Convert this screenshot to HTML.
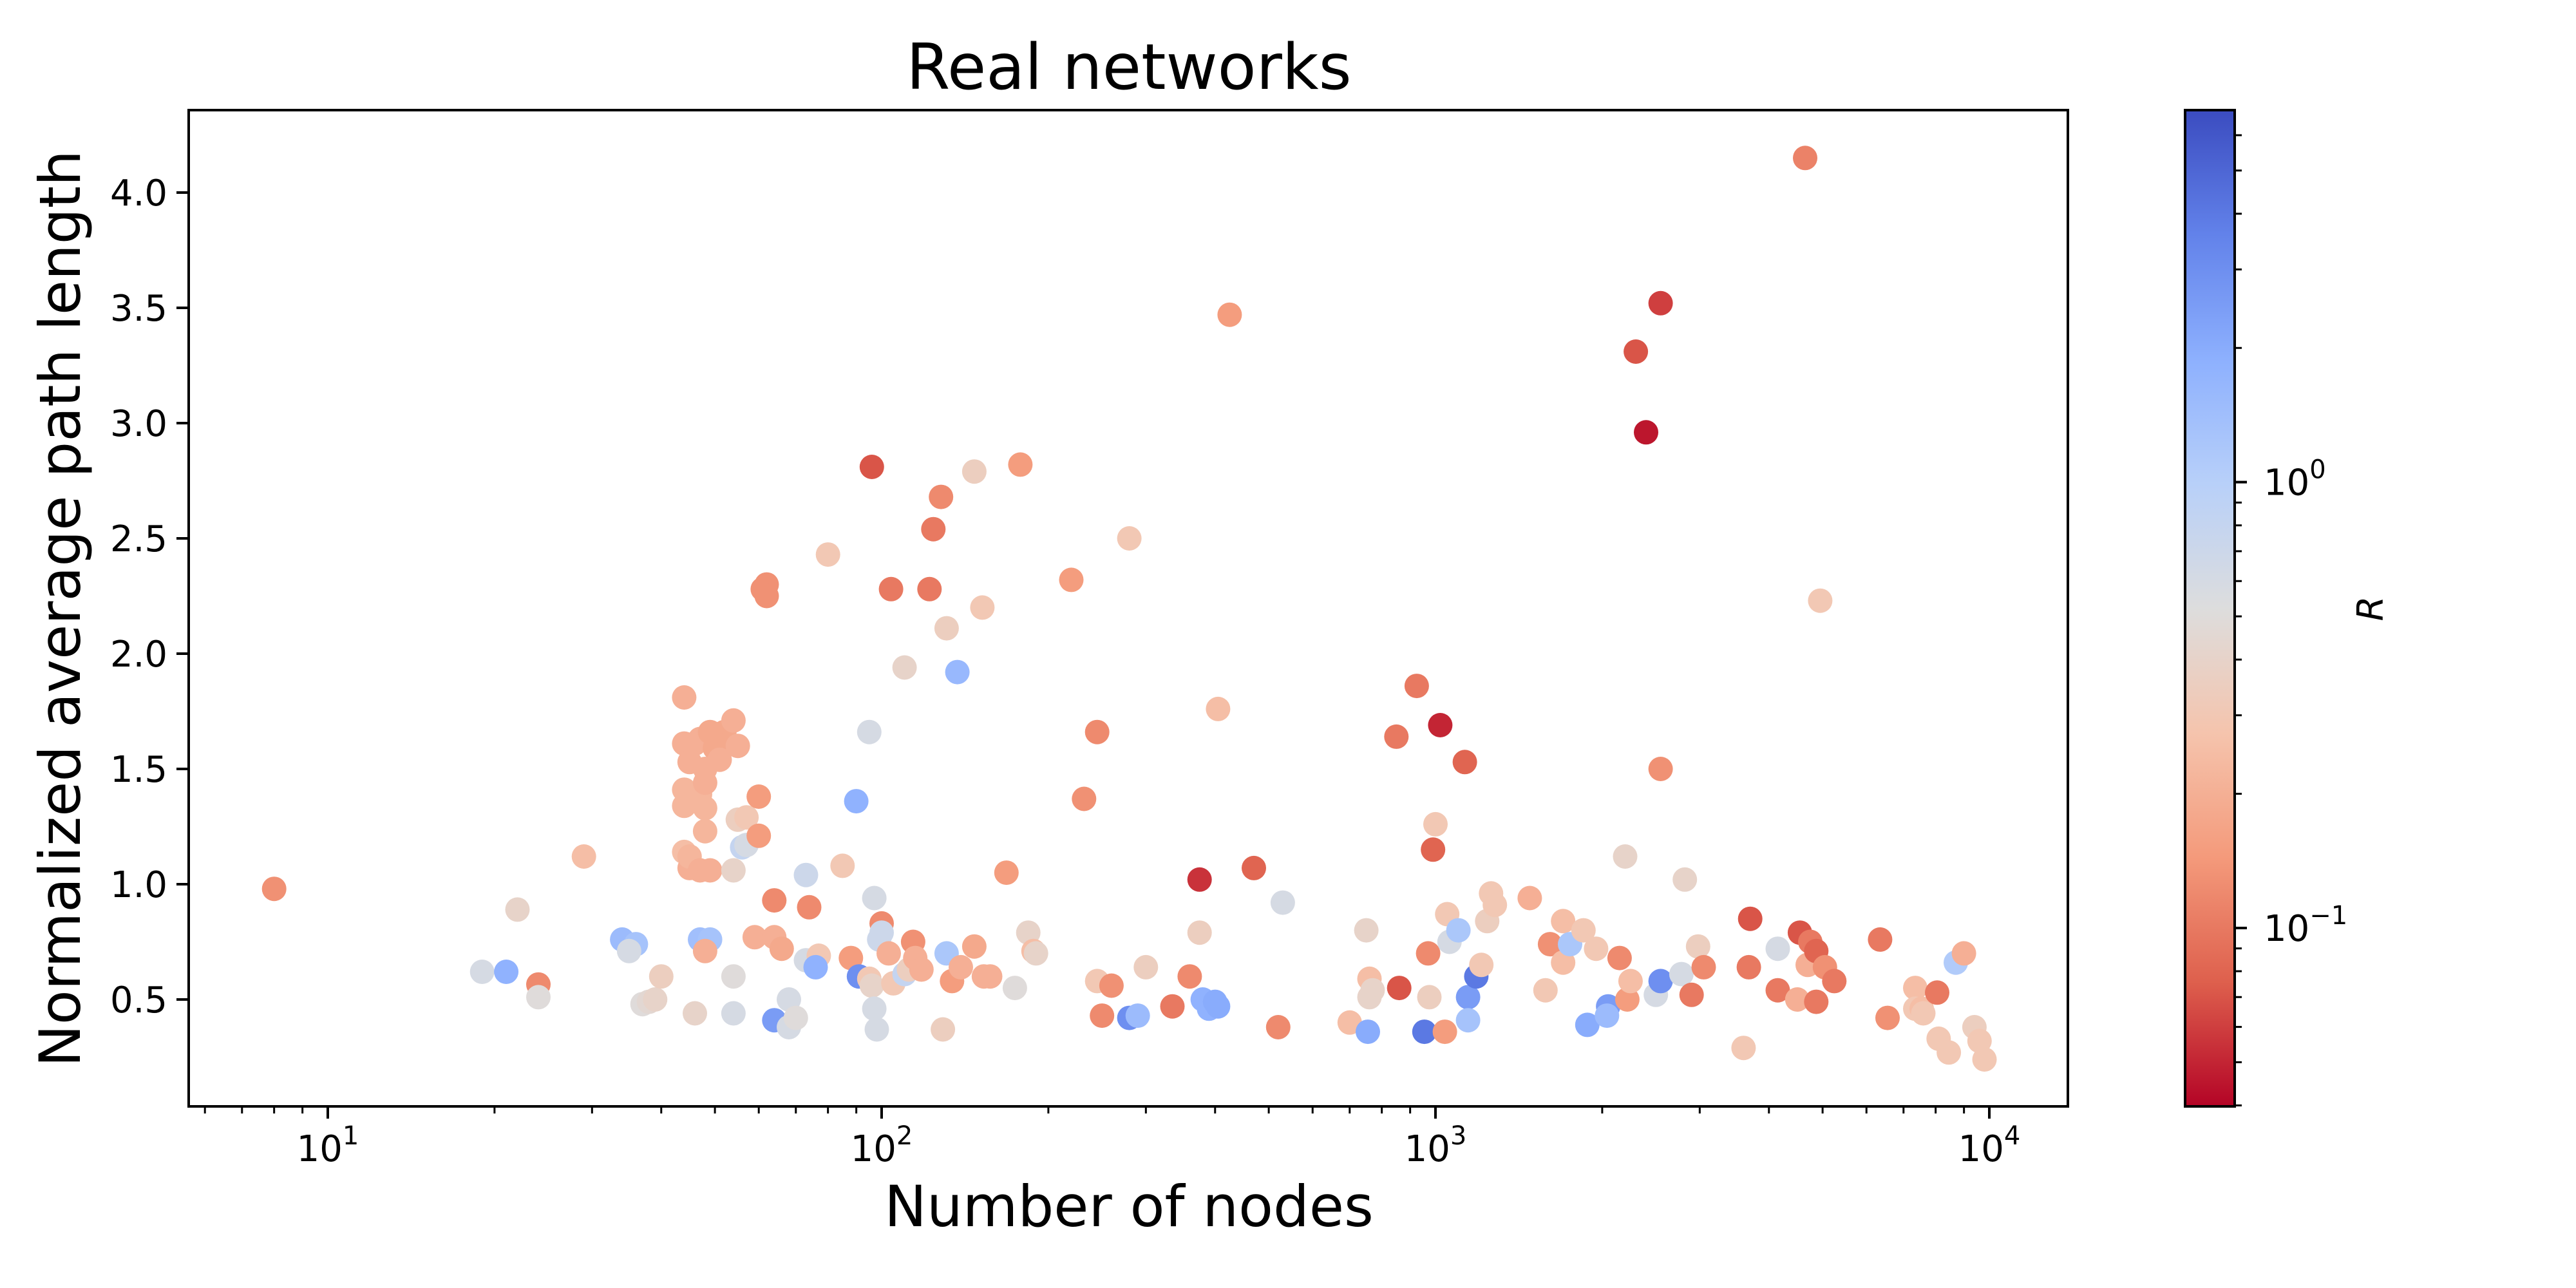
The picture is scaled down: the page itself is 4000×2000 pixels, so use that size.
<!DOCTYPE html>
<html><head><meta charset="utf-8"><style>
html,body{margin:0;padding:0;background:#fff;}
svg{display:block;font-family:"DejaVu Sans","Liberation Sans",sans-serif;}
</style></head><body>
<svg id="chart" width="4000" height="2000" viewBox="0 0 4000 2000" xmlns="http://www.w3.org/2000/svg">
<rect width="4000" height="2000" fill="#fff"/>
<text x="1753" y="138" font-size="98" text-anchor="middle">Real networks</text>
<text x="1753" y="1904" font-size="88" text-anchor="middle">Number of nodes</text>
<text transform="translate(124,945) rotate(-90)" font-size="88" text-anchor="middle">Normalized average path length</text>
<g id="points"></g>
<g id="axes"></g>
<defs><linearGradient id="cbgrad" x1="0" y1="1" x2="0" y2="0">
<stop offset="0" stop-color="#b40426"/><stop offset="0.125" stop-color="#de604d"/><stop offset="0.25" stop-color="#f49a7b"/><stop offset="0.375" stop-color="#f5c4ad"/><stop offset="0.5" stop-color="#dddddd"/><stop offset="0.625" stop-color="#b8d0f9"/><stop offset="0.75" stop-color="#8db0fe"/><stop offset="0.875" stop-color="#6282ea"/><stop offset="1" stop-color="#3b4cc0"/>
</linearGradient></defs>
<g id="colorbar"></g>
<text transform="translate(3700,945) rotate(-90)" font-size="56" font-style="italic" text-anchor="middle">R</text>
</svg>
<script>
const nodes=[8,19,21,22,24,24,29,34,36,35,37,38,39,40,46,44,44,45,46,47,44,44,47,48,48,44,45,45,47,49,50,52,49,54,55,51,48,48,54,55,56,57,57,60,60,61,62,62,47,49,48,54,54,59,64,64,66,64,68,68,70,73,74,73,77,76,80,85,88,90,91,95,96,95,97,96,97,98,99,100,100,103,104,110,105,110,112,114,115,118,122,124,128,131,129,131,134,137,139,147,147,152,153,157,168,174,178,184,188,190,220,232,245,245,250,260,280,280,290,300,335,360,375,375,380,390,400,405,405,425,470,520,530,700,750,760,760,755,770,850,860,925,955,970,990,1000,1020,975,1040,1050,1060,1100,1130,1145,1145,1185,1210,1240,1260,1280,1480,1580,1610,1700,1700,1750,1850,1880,1950,2050,2040,2150,2200,2220,2250,2300,2400,2500,2550,2550,2550,2780,2820,2900,2980,3050,3600,3700,3680,4150,4150,4500,4550,4650,4750,4700,4870,4870,4950,5050,5250,6350,6550,7350,7350,7550,7600,8050,8100,8450,8700,9000,9400,9600,9800];
const pathLen=[0.98,0.62,0.62,0.89,0.565,0.51,1.12,0.76,0.74,0.71,0.48,0.49,0.5,0.6,0.44,1.81,1.61,1.53,1.61,1.63,1.41,1.34,1.39,1.33,1.23,1.14,1.07,1.12,1.06,1.06,1.59,1.66,1.66,1.71,1.6,1.54,1.44,1.5,1.06,1.28,1.16,1.17,1.29,1.21,1.38,2.28,2.3,2.25,0.76,0.76,0.71,0.6,0.44,0.77,0.93,0.77,0.72,0.41,0.5,0.38,0.42,1.04,0.9,0.67,0.69,0.64,2.43,1.08,0.68,1.36,0.6,0.59,2.81,1.66,0.94,0.56,0.46,0.37,0.76,0.83,0.79,0.7,2.28,1.94,0.57,0.61,0.63,0.75,0.68,0.63,2.28,2.54,2.68,2.11,0.37,0.7,0.58,1.92,0.64,2.79,0.73,2.2,0.6,0.6,1.05,0.55,2.82,0.79,0.71,0.7,2.32,1.37,1.66,0.58,0.43,0.56,2.5,0.42,0.43,0.64,0.47,0.6,0.79,1.02,0.5,0.46,0.49,0.47,1.76,3.47,1.07,0.38,0.92,0.4,0.8,0.59,0.51,0.36,0.54,1.64,0.55,1.86,0.36,0.7,1.15,1.26,1.69,0.51,0.36,0.87,0.75,0.8,1.53,0.51,0.41,0.6,0.65,0.84,0.96,0.91,0.94,0.54,0.74,0.84,0.66,0.74,0.8,0.39,0.72,0.47,0.43,0.68,1.12,0.5,0.58,3.31,2.96,0.52,1.5,3.52,0.58,0.61,1.02,0.52,0.73,0.64,0.29,0.85,0.64,0.72,0.54,0.5,0.79,4.15,0.75,0.65,0.71,0.49,2.23,0.64,0.58,0.76,0.42,0.55,0.46,0.46,0.44,0.53,0.33,0.27,0.66,0.7,0.38,0.32,0.24];
const rValues=[0.13,0.6,1.8,0.4,0.12,0.5,0.25,1.5,1.3,0.6,0.5,0.45,0.4,0.35,0.4,0.2,0.2,0.2,0.2,0.2,0.22,0.22,0.22,0.22,0.22,0.25,0.2,0.22,0.2,0.2,0.18,0.18,0.18,0.2,0.2,0.2,0.2,0.2,0.4,0.35,0.8,0.6,0.3,0.15,0.15,0.13,0.13,0.13,1.4,1.3,0.2,0.5,0.6,0.2,0.12,0.2,0.18,2.5,0.6,0.6,0.5,0.7,0.12,0.6,0.3,1.8,0.3,0.3,0.15,1.8,3,0.3,0.07,0.6,0.6,0.4,0.6,0.6,0.7,0.12,0.7,0.2,0.1,0.4,0.3,0.8,0.35,0.13,0.2,0.2,0.1,0.1,0.12,0.35,0.35,1.2,0.15,1.6,0.2,0.35,0.18,0.3,0.2,0.2,0.15,0.5,0.15,0.4,0.25,0.4,0.15,0.13,0.12,0.3,0.12,0.13,0.3,3,1.5,0.35,0.1,0.12,0.35,0.055,1.8,1.8,2,2,0.25,0.15,0.08,0.12,0.6,0.25,0.4,0.25,0.4,2,0.4,0.1,0.07,0.1,4,0.12,0.08,0.3,0.05,0.35,0.15,0.3,0.6,1.2,0.08,2.5,1.3,4,0.3,0.35,0.3,0.3,0.2,0.3,0.13,0.25,0.25,1.2,0.3,2,0.3,2.5,1.5,0.12,0.4,0.15,0.25,0.07,0.045,0.6,0.13,0.06,3,0.6,0.4,0.1,0.35,0.12,0.3,0.07,0.1,0.6,0.1,0.2,0.07,0.11,0.1,0.2,0.08,0.1,0.3,0.13,0.1,0.1,0.13,0.25,0.3,0.25,0.3,0.1,0.3,0.3,1.1,0.2,0.35,0.3,0.3];
const yTicks=[0.5,1.0,1.5,2.0,2.5,3.0,3.5,4.0];
const xMajorExp=[1,2,3,4];
const cbMajorExp=[-1,0];

const NS="http://www.w3.org/2000/svg";
const PL=293,PR=3211,PT=171,PB=1718;
const X0=509,DEC=860;
function xs(v){return X0+(Math.log10(v)-1)*DEC;}
function ys(v){return 299+(4.0-v)*358;}
const CBL=3393,CBR=3470,CBT=171,CBB=1718;
const RMIN=0.0398,RMAX=6.83;
function cbs(v){return CBB-(Math.log10(v)-Math.log10(RMIN))/(Math.log10(RMAX)-Math.log10(RMIN))*(CBB-CBT);}
const stops=[[59,76,192],[98,130,234],[141,176,254],[184,208,249],[221,221,221],[245,196,173],[244,154,123],[222,96,77],[180,4,38]];
function cmap(r){let t=(Math.log10(r)-Math.log10(RMIN))/(Math.log10(RMAX)-Math.log10(RMIN));t=Math.max(0,Math.min(1,1-t));
 const p=t*8,i=Math.min(7,Math.floor(p)),f=p-i,a=stops[i],b=stops[i+1];
 return 'rgb('+a.map((c,k)=>Math.round(c+(b[k]-c)*f)).join(',')+')';}
function mk(tag,attrs,parent){const e=document.createElementNS(NS,tag);for(const k in attrs)e.setAttribute(k,attrs[k]);parent.appendChild(e);return e;}

const pts=document.getElementById('points');
for(let i=0;i<nodes.length;i++){
 const c=mk('circle',{cx:xs(nodes[i]).toFixed(1),cy:ys(pathLen[i]).toFixed(1),r:19,fill:cmap(rValues[i])},pts);
 
 
}
const ax=document.getElementById('axes');
const frame=mk('rect',{x:PL,y:PT,width:PR-PL,height:PB-PT,fill:'none',stroke:'#000','stroke-width':4},ax);


for(const v of yTicks){
 const y=ys(v);
 mk('line',{x1:PL-19,x2:PL,y1:y,y2:y,stroke:'#000','stroke-width':4},ax);
 const t=mk('text',{x:PL-33,y:y+20,'font-size':56,'text-anchor':'end'},ax);
 t.textContent=v.toFixed(1);
 
 
}
for(let e=0;e<=4;e++){for(let m=1;m<=9;m++){
 const v=m*Math.pow(10,e),x=xs(v);if(x<PL||x>PR)continue;
 const major=(m===1);
 mk('line',{x1:x,x2:x,y1:PB,y2:PB+(major?19:11),stroke:'#000','stroke-width':major?4:3},ax);
}}
for(const e of xMajorExp){
 const x=xs(Math.pow(10,e));
 const t=mk('text',{x:x,y:1803,'font-size':56,'text-anchor':'middle'},ax);
 t.textContent='10';
 const s=mk('tspan',{'font-size':40,dy:-26},t);s.textContent=String(e);
 
 
}
const cb=document.getElementById('colorbar');
mk('rect',{x:CBL,y:CBT,width:CBR-CBL,height:CBB-CBT,fill:'url(#cbgrad)',stroke:'#000','stroke-width':4},cb);
for(let e=-2;e<=0;e++){for(let m=1;m<=9;m++){
 const v=m*Math.pow(10,e);if(v<RMIN||v>RMAX)continue;const y=cbs(v);const major=(m===1);
 mk('line',{x1:CBR,x2:CBR+(major?19:11),y1:y,y2:y,stroke:'#000','stroke-width':major?4:3},cb);
}}
for(const e of cbMajorExp){
 const y=cbs(Math.pow(10,e));
 const t=mk('text',{x:CBR+45,y:y+20,'font-size':56},cb);
 t.textContent='10';
 const s=mk('tspan',{'font-size':40,dy:-26},t);s.textContent=(e<0?'\u2212':'')+Math.abs(e);
 
 
}
</script>
</body></html>
